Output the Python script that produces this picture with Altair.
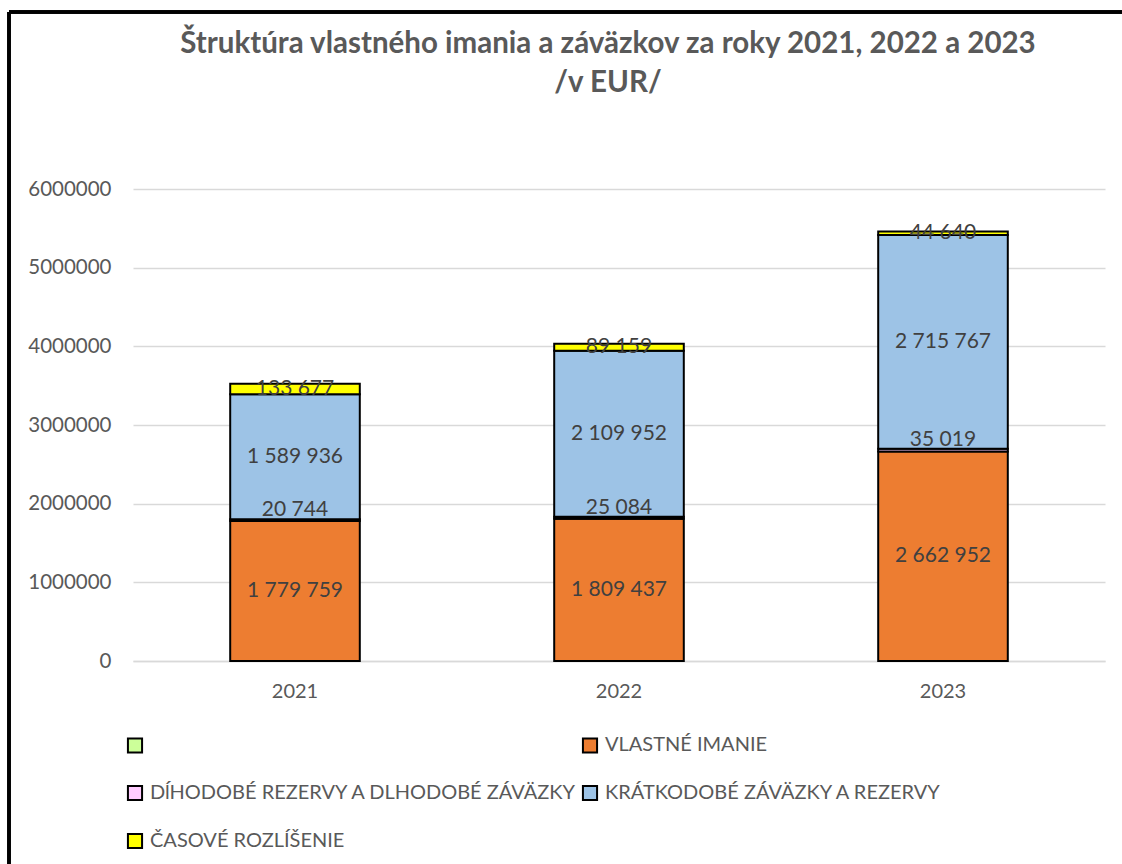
import altair as alt
import pandas as pd

years = ["2021", "2022", "2023"]
series = ["", "VLASTNÉ IMANIE", "DĺHODOBÉ REZERVY A DLHODOBÉ ZÁVÄZKY",
          "KRÁTKODOBÉ ZÁVÄZKY A REZERVY", "ČASOVÉ ROZLÍŠENIE"]
colors = ["#CCFF99", "#ED7D31", "#FFCCFF", "#9DC3E6", "#FFFF00"]
vlastne = [1779759, 1809437, 2662952]
dlhodobe = [20744, 25084, 35019]
kratkodobe = [1589936, 2109952, 2715767]
casove = [133677, 89159, 44640]

rows = []
values_by_series = {series[1]: vlastne, series[2]: dlhodobe,
                    series[3]: kratkodobe, series[4]: casove}
for yi, y in enumerate(years):
    acc = 0
    for si, s in enumerate(series[1:], start=1):
        v = values_by_series[s][yi]
        rows.append({"rok": y, "serie": s, "idx": si, "hodnota": v,
                     "mid": acc + v / 2,
                     "label": f"{v:,}".replace(",", " ")})
        acc += v
df = pd.DataFrame(rows)

FONT = "Lato"
GREY = "#595959"

base = alt.Chart(df)

bars = base.mark_bar(stroke="black", strokeWidth=2).encode(
    x=alt.X("rok:N", title=None, sort=years,
            scale=alt.Scale(paddingInner=0.6, paddingOuter=0.3),
            axis=alt.Axis(labelAngle=0, labelFontSize=20, labelColor=GREY,
                          labelFont=FONT, ticks=False, domainColor="#d9d9d9",
                          domainWidth=1.5, labelPadding=20)),
    y=alt.Y("hodnota:Q", stack="zero", title=None,
            scale=alt.Scale(domain=[0, 6000000]),
            axis=alt.Axis(values=[0, 1000000, 2000000, 3000000, 4000000, 5000000, 6000000],
                          format="d", labelFontSize=20.5, labelColor=GREY, labelFont=FONT,
                          ticks=False, domain=False, gridColor="#d9d9d9", gridWidth=1.5,
                          labelPadding=22)),
    color=alt.Color("serie:N", scale=alt.Scale(domain=series, range=colors),
                    legend=alt.Legend(title=None, orient="none", legendX=-8, legendY=546,
                                      columns=2, direction="horizontal",
                                      symbolType="square", symbolSize=200,
                                      symbolStrokeColor="black", symbolStrokeWidth=2,
                                      labelFontSize=20, labelColor=GREY, labelFont=FONT,
                                      rowPadding=24, columnPadding=0, labelOffset=5,
                                      labelLimit=600)),
    order=alt.Order("idx:Q"),
)

texts = base.mark_text(fontSize=21, color="#404040", font=FONT).encode(
    x=alt.X("rok:N", sort=years),
    y=alt.Y("mid:Q"),
    text="label:N",
).transform_filter(alt.datum.idx != 2)

texts_thin = base.mark_text(fontSize=21, color="#404040", font=FONT, dy=-10).encode(
    x=alt.X("rok:N", sort=years),
    y=alt.Y("mid:Q"),
    text="label:N",
).transform_filter(alt.datum.idx == 2)

frame_left = alt.Chart(df).mark_rule(color="black", strokeWidth=2.5).encode(
    x=alt.value(-124), y=alt.value(-177), y2=alt.value(700))
frame_top = alt.Chart(df).mark_rule(color="black", strokeWidth=2.5).encode(
    x=alt.value(-124), x2=alt.value(1000), y=alt.value(-177))

chart = alt.layer(bars, texts, texts_thin, frame_left, frame_top).properties(
    width=972, height=472,
    autosize=alt.AutoSizeParams(type="none"),
    padding={"left": 133, "top": 189, "right": 17, "bottom": 203},
    title=alt.TitleParams(
        text=["Štruktúra vlastného imania a záväzkov za roky 2021, 2022 a 2023", "/v EUR/"],
        fontSize=29.5, font=FONT, fontWeight="bold", color=GREY,
        anchor="middle", offset=-88, lineHeight=39, dx=-11),
).configure_view(stroke=None)

chart.save("out.html", embed_options={"renderer": "svg", "actions": False})
